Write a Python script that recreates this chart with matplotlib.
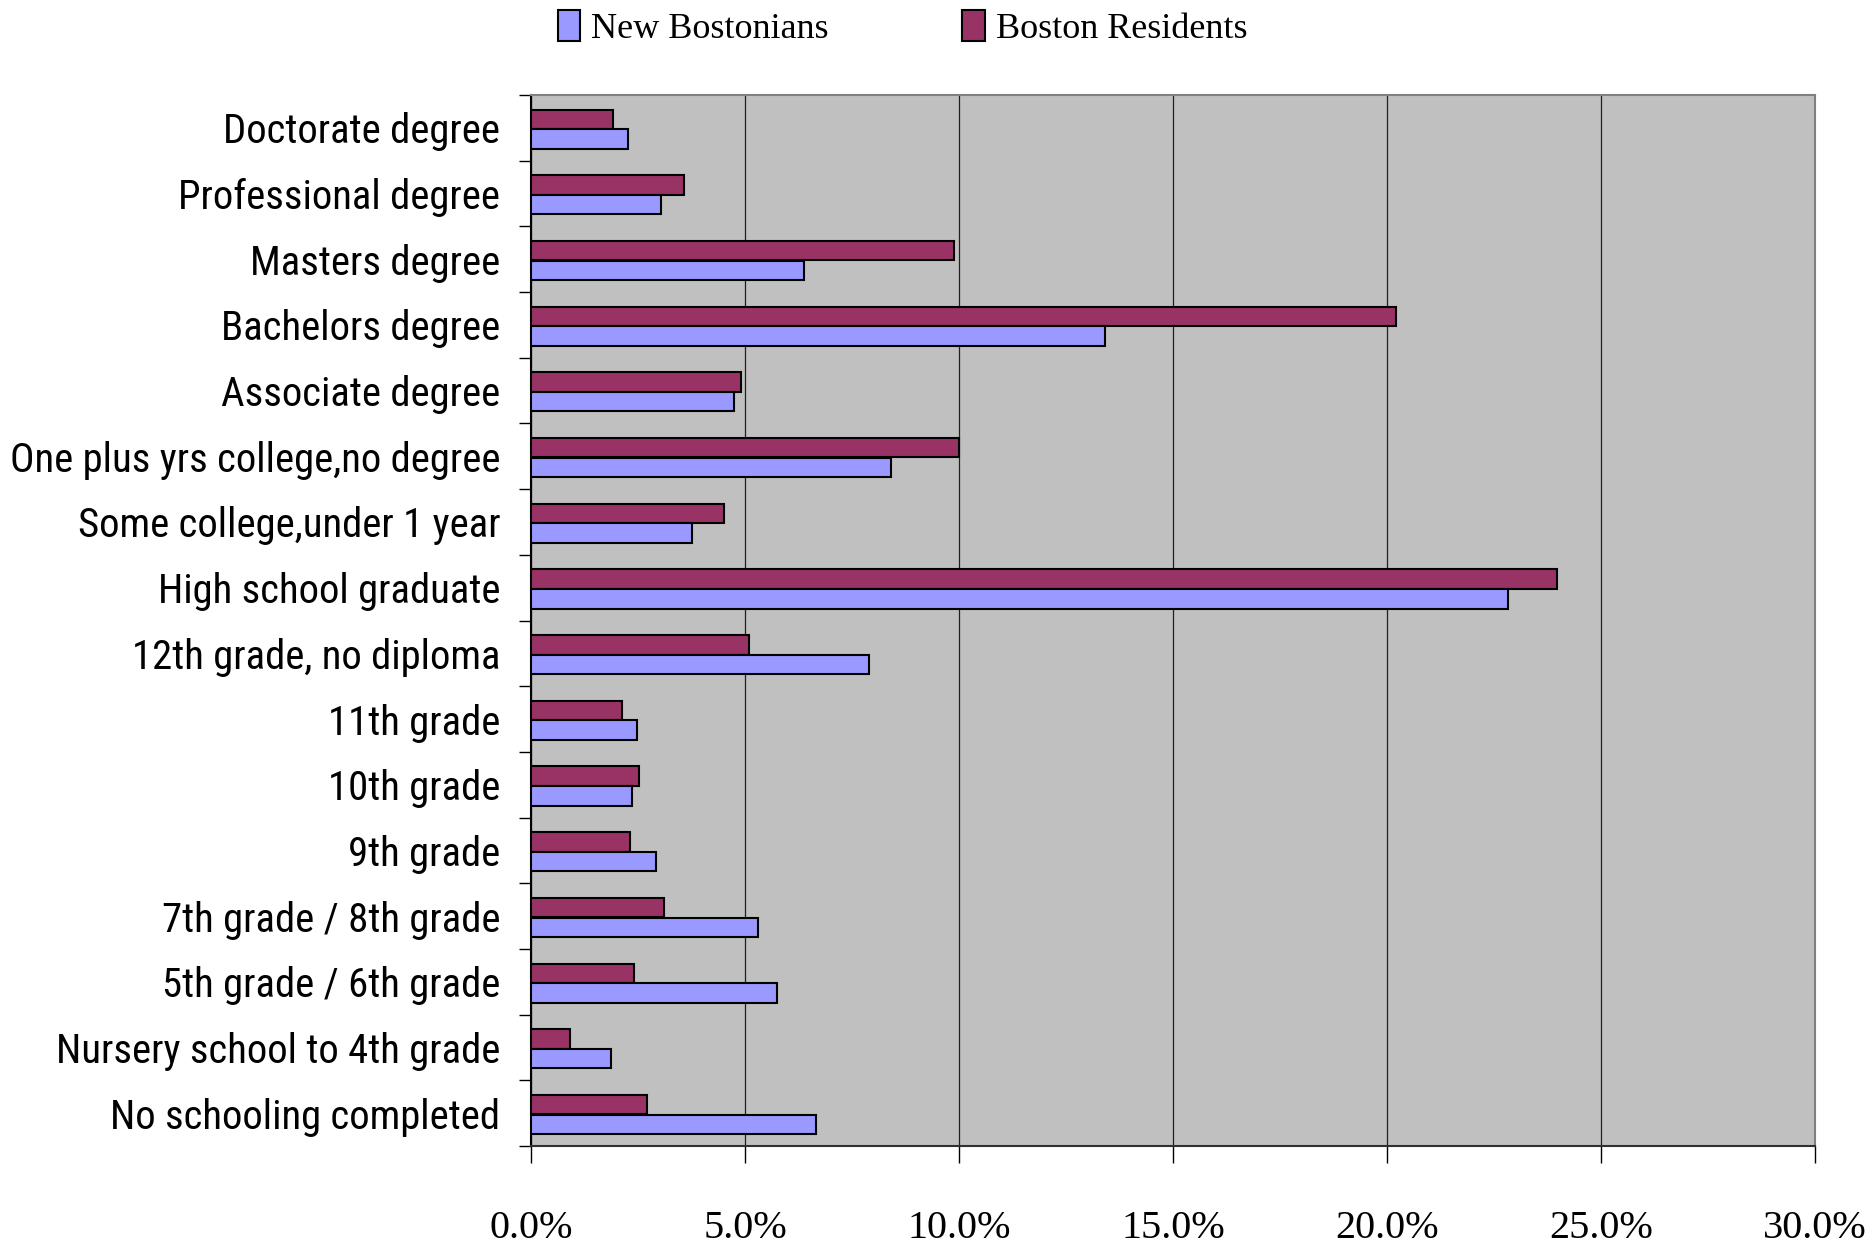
import matplotlib
matplotlib.use("Agg")
import matplotlib.pyplot as plt
from matplotlib import font_manager as fm
import numpy as np
from matplotlib.patches import Rectangle
from matplotlib.ticker import FuncFormatter, MultipleLocator

# Educational attainment, share of population (%)
categories = [
    "Doctorate degree",
    "Professional degree",
    "Masters degree",
    "Bachelors degree",
    "Associate degree",
    "One plus yrs college,no degree",
    "Some college,under 1 year",
    "High school graduate",
    "12th grade, no diploma",
    "11th grade",
    "10th grade",
    "9th grade",
    "7th grade / 8th grade",
    "5th grade / 6th grade",
    "Nursery school to 4th grade",
    "No schooling completed",
]
new_bostonians = [2.27, 3.03, 6.38, 13.4, 4.74, 8.41, 3.75, 22.82,
                  7.90, 2.47, 2.36, 2.91, 5.30, 5.74, 1.88, 6.66]
boston_residents = [1.91, 3.58, 9.88, 20.2, 4.91, 10.0, 4.50, 23.98,
                    5.10, 2.12, 2.52, 2.31, 3.11, 2.40, 0.92, 2.72]
series_names = ["New Bostonians", "Boston Residents"]
x_ticks = [0, 5, 10, 15, 20, 25, 30]

NB_COLOR = "#9999FF"
BR_COLOR = "#993366"
BG_COLOR = "#C0C0C0"
SERIF = ["Liberation Serif", "DejaVu Serif"]

# Pick a narrow sans face for the category labels if one is available
installed = {f.name for f in fm.fontManager.ttflist}
narrow_family = None
for name in ("Liberation Sans Narrow", "Arial Narrow", "Roboto Condensed",
             "Open Sans Condensed", "Noto Sans Condensed"):
    if name in installed:
        narrow_family = name
        break
label_font = fm.FontProperties(family=[narrow_family or "DejaVu Sans"],
                               stretch="condensed")

fig = plt.figure(figsize=(18.7, 12.51), dpi=100)
ax = fig.add_axes([531 / 1870, 1 - 1146 / 1251, (1815 - 531) / 1870, (1146 - 95) / 1251])
ax.set_facecolor(BG_COLOR)

idx = np.arange(len(categories))
bar_h = 0.296
ax.barh(idx - 0.13, boston_residents, height=bar_h, color=BR_COLOR,
        edgecolor="black", linewidth=1.5, zorder=3)
ax.barh(idx + 0.17, new_bostonians, height=bar_h, color=NB_COLOR,
        edgecolor="black", linewidth=1.5, zorder=3)

ax.set_xlim(x_ticks[0], x_ticks[-1])
ax.set_ylim(len(categories) - 0.5, -0.5)

# X axis: percent ticks with vertical grid lines
ax.set_xticks(x_ticks)
ax.xaxis.set_major_formatter(FuncFormatter(lambda v, p: f"{v:.1f}%"))
ax.grid(axis="x", color="#202020", linewidth=0.9, zorder=1)
ax.tick_params(axis="x", direction="out", length=12, width=1.0, color="black",
               pad=34, labelsize=29)
for lab in ax.get_xticklabels():
    lab.set_family(SERIF)

# Y axis: category labels between boundary ticks; size chosen so the
# longest label spans about 490 px
ax.set_yticks(idx)
ax.set_yticklabels(categories)
ax.yaxis.set_minor_locator(MultipleLocator(1, offset=0.5))
ax.tick_params(axis="y", which="major", length=0, pad=22)
ax.tick_params(axis="y", which="minor", direction="out", length=8.6, width=1.0,
               color="black")
renderer = fig.canvas.get_renderer()
probe_size = 30.0
probe = fig.text(0, 0, max(categories, key=len), fontproperties=label_font,
                 fontsize=probe_size)
probe_w = probe.get_window_extent(renderer).width
probe.remove()
label_size = min(36.0, probe_size * 490.0 / probe_w)
for lab in ax.get_yticklabels():
    lab.set_fontproperties(label_font)
    lab.set_fontsize(label_size)

for side in ("top", "right"):
    ax.spines[side].set_color("#808080")
    ax.spines[side].set_linewidth(1.5)
ax.spines["left"].set_color("black")
ax.spines["left"].set_linewidth(1.5)
ax.spines["bottom"].set_color("#303030")
ax.spines["bottom"].set_linewidth(1.5)

handles = [Rectangle((0, 0), 1, 1, facecolor=NB_COLOR, edgecolor="black", linewidth=1.5),
           Rectangle((0, 0), 1, 1, facecolor=BR_COLOR, edgecolor="black", linewidth=1.5)]
fig.legend(handles, series_names, loc="center left", bbox_to_anchor=(540 / 1870, 1 - 28 / 1251),
           ncol=2, frameon=False, handlelength=0.62, handleheight=0.95,
           handletextpad=0.3, columnspacing=3.7, borderpad=0,
           prop={"family": SERIF, "size": 26})

fig.savefig("out.png", dpi=100)
